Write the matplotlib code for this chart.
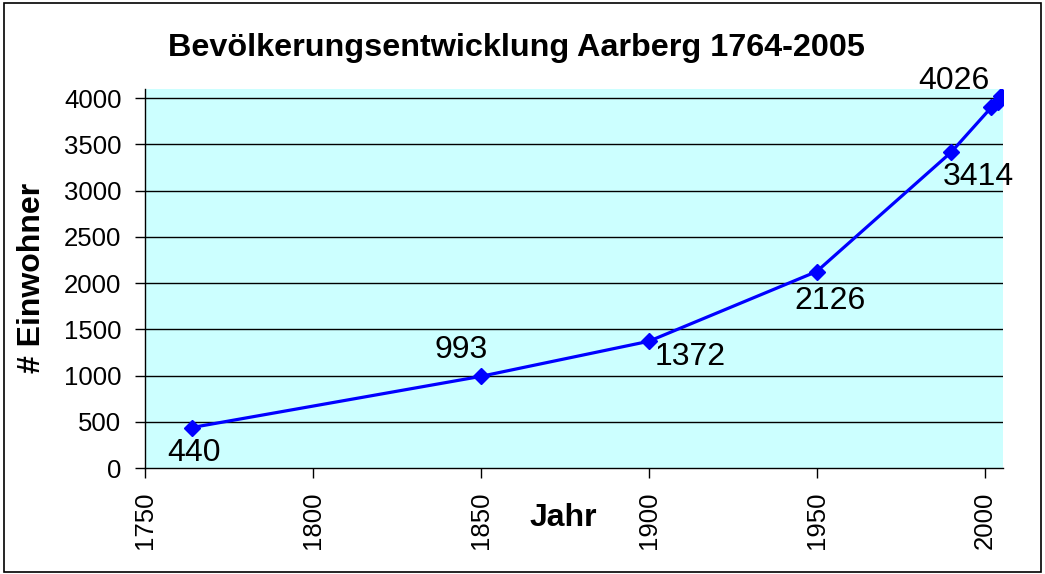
import matplotlib
matplotlib.use('Agg')
import matplotlib.pyplot as plt
from matplotlib.patches import Rectangle

plt.rcParams.update({
    'font.family': ['Liberation Sans', 'DejaVu Sans'],
})

years = [1764, 1850, 1900, 1950, 1990, 2002, 2004, 2005]
einwohner = [440, 993, 1372, 2126, 3414, 3900, 3960, 4026]

# which points get a value label, with label offset in pixels
label_years = [1764, 1850, 1900, 1950, 1990, 2005]
label_offsets = [(2, -25), (-20, 26), (41, -16), (13, -29), (27, -25), (-47, 15)]

x_ticks = [1750, 1800, 1850, 1900, 1950, 2000]
y_ticks = [0, 500, 1000, 1500, 2000, 2500, 3000, 3500, 4000]

fig = plt.figure(figsize=(10.45, 5.74), dpi=100)
fig.patches.append(Rectangle((0.004, 0.004), 0.992, 0.99, transform=fig.transFigure,
                             fill=False, edgecolor='black', lw=1.2))

ax = fig.add_axes([0.1388, 0.1843, 0.8210, 0.6607])
ax.set_facecolor('#ccffff')
ax.set_xlim(1750, 2005.5)
ax.set_ylim(0, 4100)

for yv in y_ticks[1:]:
    ax.axhline(yv, color='black', lw=1.0, zorder=1)

ax.plot(years, einwohner, color='#0000ff', lw=2.3, marker='D', ms=8.5,
        markeredgecolor='#0000ff', zorder=3)

for yr, (dx, dy) in zip(label_years, label_offsets):
    val = einwohner[years.index(yr)]
    ax.annotate(str(val), (yr, val), xytext=(dx, dy), textcoords='offset pixels',
                ha='center', va='center', fontsize=23, color='black')

ax.spines['top'].set_visible(False)
ax.spines['right'].set_visible(False)
ax.spines['left'].set_linewidth(1.0)
ax.spines['bottom'].set_linewidth(1.0)

ax.set_xticks(x_ticks)
ax.set_xticklabels([str(t) for t in x_ticks], rotation=90, fontsize=18.5)
ax.set_yticks(y_ticks)
ax.set_yticklabels([str(t) for t in y_ticks], fontsize=18.5)
ax.tick_params(axis='both', direction='out', length=7, width=1.0, pad=10)

ax.set_xlabel('Jahr', fontsize=23, fontweight='bold', va='center')
ax.xaxis.set_label_coords(0.488, -0.132)
ax.set_ylabel('# Einwohner', fontsize=23, fontweight='bold', va='center')
ax.yaxis.set_label_coords(-0.1317, 0.501)
fig.text(0.494, 0.916, 'Bevölkerungsentwicklung Aarberg 1764-2005', fontsize=23.3,
         fontweight='bold', ha='center', va='center')

fig.savefig('out.png', dpi=100)
